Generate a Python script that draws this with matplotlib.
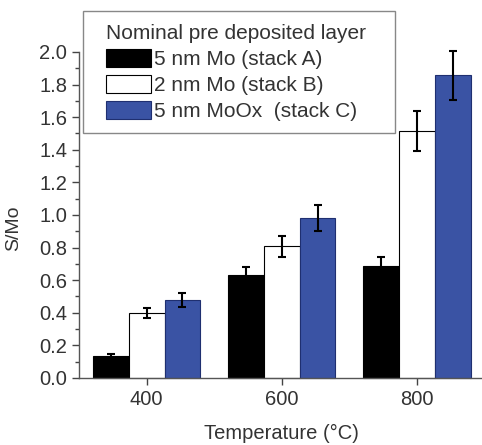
import numpy as np
import matplotlib
matplotlib.use('Agg')
import matplotlib.pyplot as plt
from matplotlib.patches import Rectangle

plt.rcParams['font.family'] = ['Liberation Sans', 'DejaVu Sans']

# Data
temps = [400, 600, 800]
stack_a = [0.135, 0.63, 0.69]
stack_a_err = [0.01, 0.05, 0.055]
stack_b = [0.397, 0.808, 1.515]
stack_b_err = [0.03, 0.065, 0.12]
stack_c = [0.478, 0.98, 1.856]
stack_c_err = [0.045, 0.08, 0.15]
labels = ['5 nm Mo (stack A)', '2 nm Mo (stack B)', '5 nm MoOx  (stack C)']

blue = '#3a53a4'
txt = '#333333'
width = 53

fig = plt.figure(figsize=(4.82, 4.45), dpi=100)
ax = fig.add_axes([0.164, 0.1506, 0.841, 0.7326])

x = np.array(temps)
err_kw = dict(ecolor='black', elinewidth=1.5, capsize=3, capthick=1.5)
b1 = ax.bar(x - width, stack_a, width, color='black', edgecolor='black', linewidth=0.8,
            yerr=stack_a_err, error_kw=err_kw, label=labels[0])
b2 = ax.bar(x, stack_b, width, color='white', edgecolor='black', linewidth=0.8,
            yerr=stack_b_err, error_kw=err_kw, label=labels[1])
b3 = ax.bar(x + width, stack_c, width, color=blue, edgecolor='#1f2f70', linewidth=0.8,
            yerr=stack_c_err, error_kw=err_kw, label=labels[2])
for b in (b1, b2, b3):
    for p in b.patches:
        p.set_clip_on(False)
    for ln in b.errorbar.lines[1] + b.errorbar.lines[2]:
        ln.set_clip_on(False)

ax.set_xlim(300, 900)
ax.set_ylim(0, 2.0)
ax.set_xticks(temps)
ax.set_yticks(np.arange(0, 2.01, 0.2))
ax.set_yticks(np.arange(0, 2.01, 0.1), minor=True)
ax.yaxis.set_major_formatter(matplotlib.ticker.FormatStrFormatter('%.1f'))
ax.tick_params(axis='both', which='major', direction='out', length=5, width=1,
               labelsize=14.5, colors='#444444', labelcolor=txt)
ax.tick_params(axis='y', which='minor', direction='out', length=3, width=1, colors='#444444')
for s in ['top', 'right']:
    ax.spines[s].set_visible(False)
for s in ['left', 'bottom']:
    ax.spines[s].set_color('#555555')
    ax.spines[s].set_linewidth(1)

ax.set_ylabel('S/Mo', fontsize=14, color=txt)
ax.yaxis.set_label_coords(-0.14, 0.46)
ax.set_xlabel('Temperature (\u00b0C)', fontsize=14.5, color=txt, labelpad=11)

# legend frame drawn by hand, entries placed inside it
frame = Rectangle((83 / 482, 1 - 133 / 445), 312 / 482, 122 / 445,
                  transform=fig.transFigure, facecolor='white',
                  edgecolor='#888888', linewidth=1, zorder=5, clip_on=False)
ax.add_patch(frame)
leg = ax.legend(loc='upper left', bbox_to_anchor=(106 / 482, 1 - 24 / 445),
                bbox_transform=fig.transFigure, title='Nominal pre deposited layer',
                fontsize=15, title_fontsize=15, alignment='left', frameon=False,
                handlelength=2.16, handleheight=0.96, handletextpad=0.12,
                labelspacing=0.28, borderpad=0, borderaxespad=0)
leg.set_zorder(6)
for t in leg.get_texts():
    t.set_color(txt)
leg.get_title().set_color(txt)

fig.savefig('out.png', dpi=100)
